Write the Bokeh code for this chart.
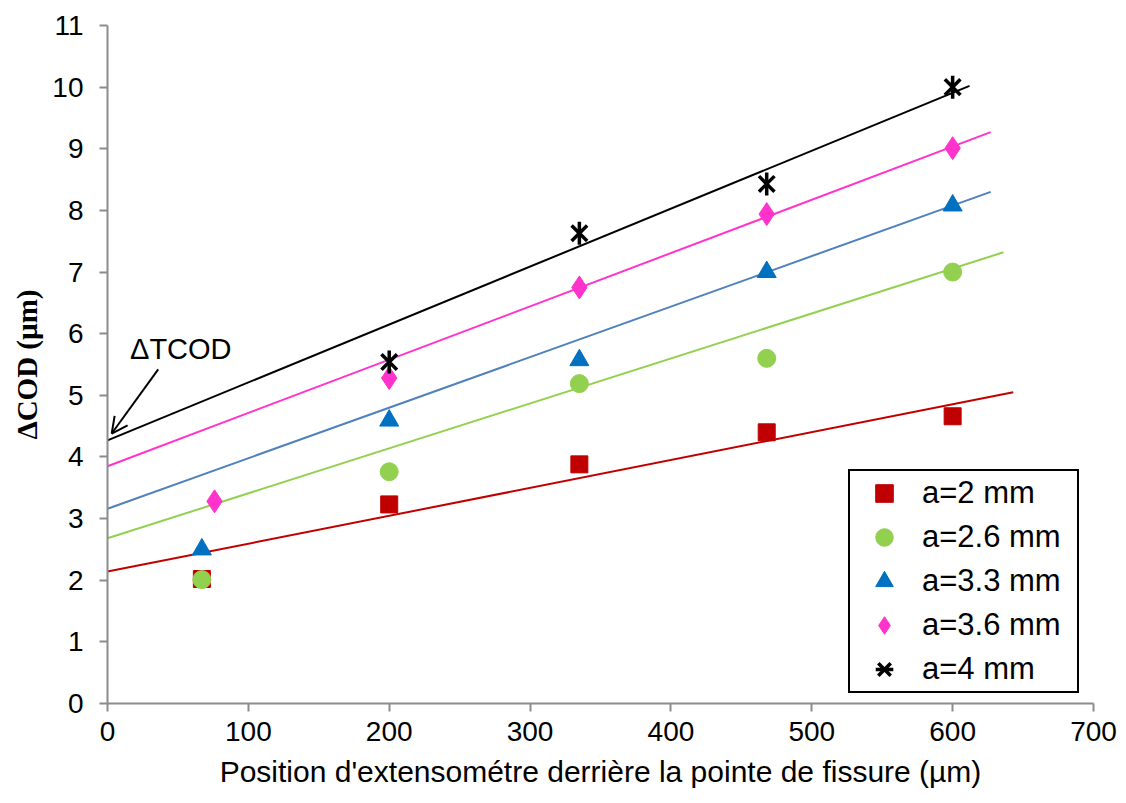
from bokeh.plotting import figure
from bokeh.models import Legend, LegendItem, Arrow, OpenHead, Label, FixedTicker, Range1d
from bokeh.embed import file_html
from bokeh.resources import INLINE
from bokeh.core.properties import value

# ---- data ----
series_labels = ["a=2 mm", "a=2.6 mm", "a=3.3 mm", "a=3.6 mm", "a=4 mm"]

pos_a2 = [67, 200, 335, 468, 600]
cod_a2 = [2.02, 3.23, 3.88, 4.40, 4.66]

pos_a26 = [67, 200, 335, 468, 600]
cod_a26 = [2.01, 3.76, 5.19, 5.60, 7.00]

pos_a33 = [67, 200, 335, 468, 600]
cod_a33 = [2.50, 4.59, 5.57, 7.00, 8.08]

pos_a36 = [76, 200, 335, 468, 600]
cod_a36 = [3.28, 5.28, 6.75, 7.94, 9.01]

pos_a4 = [200, 335, 468, 600]
cod_a4 = [5.54, 7.63, 8.43, 10.00]

# trend lines (start / end)
trend_x_a2 = [0, 643]
trend_y_a2 = [2.14, 5.05]
trend_x_a26 = [0, 636]
trend_y_a26 = [2.68, 7.32]
trend_x_a33 = [0, 627]
trend_y_a33 = [3.16, 8.30]
trend_x_a36 = [0, 627]
trend_y_a36 = [3.85, 9.27]
trend_x_a4 = [0, 612]
trend_y_a4 = [4.27, 10.02]

x_ticks = [0, 100, 200, 300, 400, 500, 600, 700]
y_ticks = list(range(0, 12))

annot_text = "\u0394TCOD"
annot_x, annot_y = 16, 5.75
arrow_start = (36, 5.42)
arrow_end = (3, 4.38)

SANS = "Liberation Sans"

# ---- figure ----
p = figure(width=1120, height=800, output_backend="svg", toolbar_location=None,
           x_range=Range1d(0, 700), y_range=Range1d(0, 11),
           min_border_left=107, min_border_right=27, min_border_top=25, min_border_bottom=97)
p.outline_line_color = None
p.grid.visible = False
p.background_fill_color = "white"
p.border_fill_color = "white"

axis_color = "#8c8c8c"
for ax in (p.xaxis[0], p.yaxis[0]):
    ax.axis_line_color = axis_color
    ax.axis_line_width = 2
    ax.major_tick_line_color = axis_color
    ax.major_tick_line_width = 2
    ax.major_tick_in = 0
    ax.major_tick_out = 8
    ax.minor_tick_line_color = None
    ax.major_label_text_color = "black"
    ax.axis_label_text_color = "black"
    ax.axis_label_text_font_style = "normal"

p.xaxis.ticker = FixedTicker(ticks=x_ticks)
p.yaxis.ticker = FixedTicker(ticks=y_ticks)

p.xaxis.major_label_text_font = SANS
p.xaxis.major_label_text_font_size = "28px"
p.xaxis.major_label_standoff = 10
p.xaxis.axis_label = "Position d'extensom\u00e9tre derri\u00e8re la pointe de fissure (\u00b5m)"
p.xaxis.axis_label_text_font = SANS
p.xaxis.axis_label_text_font_size = "30px"
p.xaxis.axis_label_standoff = 11

p.yaxis.major_label_text_font = SANS
p.yaxis.major_label_text_font_size = "28px"
p.yaxis.major_label_standoff = 16
p.yaxis.axis_label = "\u0394COD (\u00b5m)"
p.yaxis.axis_label_text_font = "Liberation Serif"
p.yaxis.axis_label_text_font_style = "bold"
p.yaxis.axis_label_text_font_size = "29px"
p.yaxis.axis_label_standoff = 6

# trend lines
p.line(trend_x_a2, trend_y_a2, line_color="#C00000", line_width=2)
p.line(trend_x_a26, trend_y_a26, line_color="#92D050", line_width=2)
p.line(trend_x_a33, trend_y_a33, line_color="#4F81BD", line_width=2)
p.line(trend_x_a36, trend_y_a36, line_color="#FF33CC", line_width=2)
p.line(trend_x_a4, trend_y_a4, line_color="black", line_width=2)

# markers
r2 = p.scatter(pos_a2, cod_a2, marker="square", size=17, fill_color="#C00000", line_color="#C00000")
r26 = p.scatter(pos_a26, cod_a26, marker="circle", size=18, fill_color="#92D050", line_color="#92D050")
r33 = p.scatter(pos_a33, cod_a33, marker="triangle", size=19, fill_color="#0070C0", line_color="#0070C0")
r36 = p.scatter(pos_a36, cod_a36, marker="diamond", size=23, fill_color="#FF33CC", line_color="#FF33CC")
r4x = p.scatter(pos_a4, cod_a4, marker="x", size=22, line_color="black", line_width=3.5)
r4d = p.scatter(pos_a4, cod_a4, marker="dash", size=23, angle=1.5708, line_color="black", line_width=3.5)

# annotation
p.add_layout(Label(x=annot_x, y=annot_y, text=annot_text, text_font=SANS,
                   text_font_size="29px", text_color="black", text_baseline="alphabetic"))
p.add_layout(Arrow(end=OpenHead(size=16, line_width=2, line_color="black"),
                   x_start=arrow_start[0], y_start=arrow_start[1],
                   x_end=arrow_end[0], y_end=arrow_end[1], line_width=2, line_color="black"))

legend = Legend(items=[
    LegendItem(label=series_labels[0], renderers=[r2]),
    LegendItem(label=series_labels[1], renderers=[r26]),
    LegendItem(label=series_labels[2], renderers=[r33]),
    LegendItem(label=series_labels[3], renderers=[r36]),
    LegendItem(label=series_labels[4], renderers=[r4x, r4d]),
], location=(741, 10))
legend.margin = 0
legend.padding = 0
legend.spacing = 0
legend.glyph_width = 68
legend.glyph_height = 44
legend.label_height = 44
legend.label_width = 155
legend.label_standoff = 4
legend.label_text_font = SANS
legend.label_text_font_size = "31px"
legend.label_text_color = "black"
legend.border_line_color = "black"
legend.border_line_alpha = 1.0
legend.border_line_width = 2
legend.background_fill_color = "white"
legend.background_fill_alpha = 1
p.add_layout(legend, "center")

open("out.html", "w").write(file_html(p, INLINE))
